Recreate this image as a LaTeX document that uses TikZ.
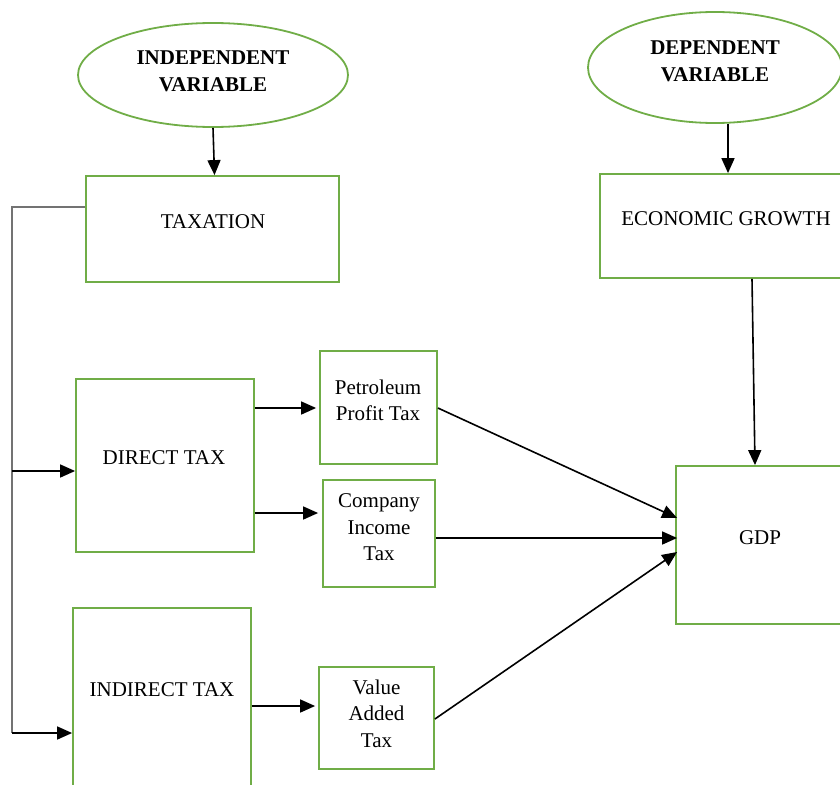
\documentclass[tikz,border=0pt]{standalone}
\usepackage{fontspec}
\setmainfont{Liberation Serif}
\usetikzlibrary{shapes.geometric,arrows.meta}
\definecolor{boxgreen}{HTML}{70AD47}
\begin{document}
\begin{tikzpicture}[x=1pt,y=-1pt,
  box/.style={draw=boxgreen,line width=1.8pt,rectangle,inner sep=0pt},
  oval/.style={draw=boxgreen,line width=1.8pt,ellipse,inner sep=0pt},
  txt/.style={inner sep=0pt,align=center,font=\fontsize{21}{26.5}\selectfont},
  btxt/.style={txt,font=\fontsize{21}{26.5}\selectfont\bfseries},
  arr/.style={draw=black,line width=1.6pt,-{Triangle[length=15pt,width=13pt]}},
  gline/.style={draw=black!55,line width=1.3pt}]
\useasboundingbox (0,0) rectangle (840,784);
\clip (0,0) rectangle (840,784);
% ovals
\node[oval,minimum width=270,minimum height=104] (indep) at (213,75) {};
\node[btxt] (indept) at (213,71.5) {INDEPENDENT\\VARIABLE};
\node[oval,minimum width=254,minimum height=111] (dep) at (715,67.5) {};
\node[btxt] (dept) at (715,61.5) {DEPENDENT\\VARIABLE};
% boxes
\node[box,minimum width=253,minimum height=106] (tax) at (212.5,229) {};
\node[txt] (taxt) at (213,222) {TAXATION};
\node[box,minimum width=252,minimum height=104] (eco) at (726,226) {};
\node[txt] (ecot) at (726,219) {ECONOMIC GROWTH};
\node[box,minimum width=178,minimum height=173] (direct) at (165,465.5) {};
\node[txt] (directt) at (164,458) {DIRECT TAX};
\node[box,minimum width=117,minimum height=113] (ppt) at (378.5,407.5) {};
\node[txt] (pptt) at (378,400.5) {Petroleum\\Profit Tax};
\node[box,minimum width=112,minimum height=107] (cit) at (379,533.5) {};
\node[txt] (citt) at (379,527.5) {Company\\Income\\Tax};
\node[box,minimum width=178,minimum height=182] (indirect) at (162,699) {};
\node[txt] (indirectt) at (162,690) {INDIRECT TAX};
\node[box,minimum width=115,minimum height=102] (vat) at (376.5,718) {};
\node[txt] (vatt) at (376.5,713.5) {Value\\Added\\Tax};
\node[box,minimum width=169,minimum height=158] (gdp) at (760.5,545) {};
\node[txt] (gdpt) at (760,538) {GDP};
% coordinates for the left bracket line
\coordinate (j1) at (12,207);
\coordinate (j2) at (12,471);
\coordinate (j3) at (12,733);
% connectors
\draw[arr] (indep.south) -- ([xshift=2]tax.north);
\draw[arr] (dep.south -| 728,0) -- (eco.north -| 728,0);
\draw[gline] (tax.west |- j1) -- (j1) -- (j3);
\draw[arr] (j2) -- (direct.west |- j2);
\draw[arr] (j3) -- (indirect.west |- j3);
\draw[arr] (direct.east |- 0,408) -- ([xshift=-3]ppt.west |- 0,408);
\draw[arr] (direct.east |- 0,513) -- ([xshift=-4]cit.west |- 0,513);
\draw[arr] (indirect.east |- 0,706) -- ([xshift=-3]vat.west |- 0,706);
\draw[arr] (ppt.east |- 0,408) -- ([xshift=2]gdp.west |- 0,518);
\draw[arr] (cit.east |- 0,538) -- ([xshift=2]gdp.west |- 0,538);
\draw[arr] (vat.east |- 0,719) -- ([xshift=2]gdp.west |- 0,552);
\draw[arr] (eco.south -| 752,0) -- (gdp.north -| 755,0);
\end{tikzpicture}
\end{document}
